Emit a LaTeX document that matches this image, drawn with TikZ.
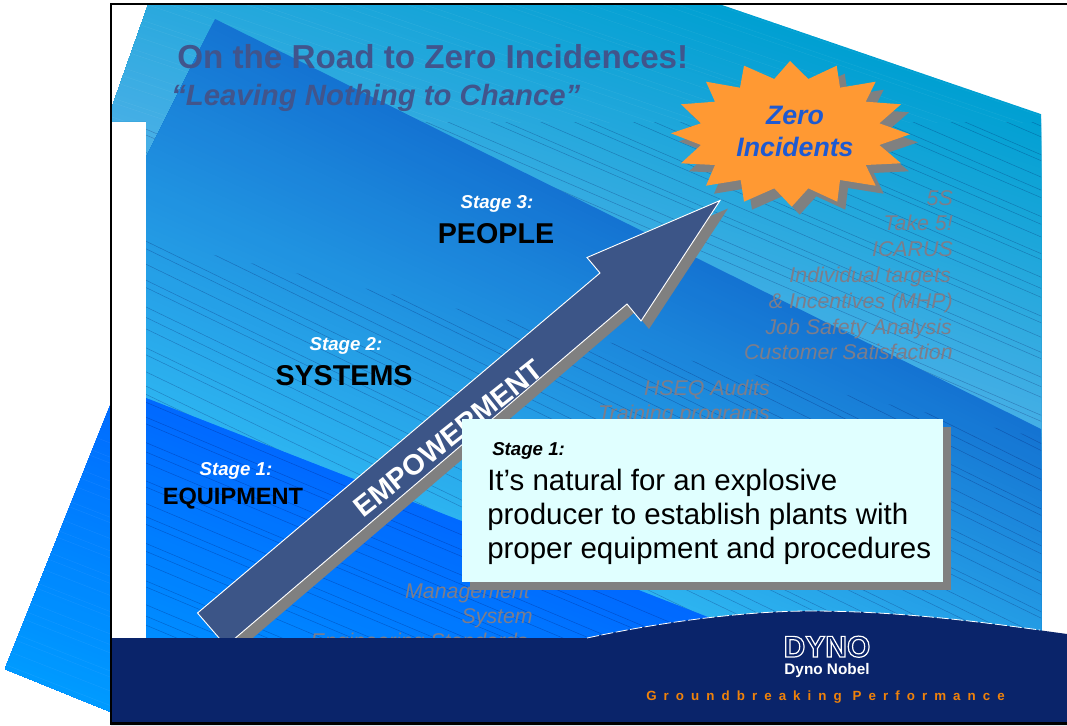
\documentclass[tikz,border=0pt]{standalone}
\usepackage{fontspec}
\setmainfont{Liberation Sans}
\definecolor{aA}{RGB}{0,160,210}
\definecolor{aB}{RGB}{70,175,230}
\definecolor{bA}{RGB}{20,115,210}
\definecolor{bB}{RGB}{45,180,240}
\definecolor{cA}{RGB}{0,105,255}
\definecolor{cB}{RGB}{0,155,255}
\definecolor{navyband}{RGB}{10,36,106}
\definecolor{titleblue}{RGB}{65,85,140}
\definecolor{arrowblue}{RGB}{60,85,135}
\definecolor{starorange}{RGB}{255,153,51}
\definecolor{zeroblue}{RGB}{30,90,210}
\definecolor{ghost}{RGB}{125,125,138}
\definecolor{paleBox}{RGB}{224,255,255}
\definecolor{shadowgray}{RGB}{128,128,128}
\definecolor{tagorange}{RGB}{240,130,10}
% colour A, colour B, top line y at x=0 and x=1067, bottom line y at x=0 and x=1067
\newcommand\gradband[6]{%
  \foreach \i in {0,...,70}{%
    \pgfmathsetmacro{\pp}{\i/70*100}%
    \pgfmathsetmacro{\ya}{#3+(#5-#3)*(\i/70)}%
    \pgfmathsetmacro{\yb}{#4+(#6-#4)*(\i/70)}%
    \fill[#2!\pp!#1] (0,\ya) -- (1067,\yb) -- (1067,1200) -- (0,1200) -- cycle;
  }}
% irregularly spaced hairlines
\newcommand\hairband[6]{%
  \foreach \i in {0,...,#6}{%
    \pgfmathsetmacro{\jit}{3.5*sin(\i*137)}%
    \pgfmathsetmacro{\ya}{#2+(#4-#2)*(\i/#6)+\jit}%
    \pgfmathsetmacro{\yb}{#3+(#5-#3)*(\i/#6)+\jit}%
    \draw[#1] (0,\ya) -- (1067,\yb);
  }}
\tikzset{
  hair/.style={draw=black!70!blue,opacity=.27,line width=.35pt},
  lighthair/.style={draw=white,opacity=.07,line width=.3pt},
  txt/.style={inner sep=0pt,anchor=base},
  titlefont/.style={txt,anchor=base west,text=titleblue,font=\fontsize{24.9}{30}\selectfont\bfseries},
  subfont/.style={txt,anchor=base west,text=titleblue,font=\fontsize{22}{26}\selectfont\bfseries\itshape},
  stagefont/.style={txt,text=white,font=\fontsize{14}{17}\selectfont\bfseries\itshape},
  bigfont/.style={txt,text=black,font=\fontsize{21.5}{26}\selectfont\bfseries},
  zerofont/.style={txt,text=zeroblue,font=\fontsize{20}{24}\selectfont\bfseries\itshape},
  ghostfont/.style={txt,anchor=base east,text=ghost,font=\fontsize{16}{19}\selectfont\itshape},
  boxfont/.style={txt,anchor=base west,text=black,font=\fontsize{22.1}{26}\selectfont},
}
\begin{document}
\begin{tikzpicture}[x=0.75pt,y=-0.75pt]
\useasboundingbox (0,0) rectangle (1067,725);
\fill[white] (0,0) rectangle (1067,725);
% left piece
\begin{scope}
  \clip (111,403) -- (5,669) -- (111,712) -- cycle;
  \gradband{cA}{cB}{341}{757}{667}{1083}
  \hairband{lighthair}{400}{816}{660}{1076}{22}
\end{scope}
% top band
\begin{scope}
  \clip (148,5) -- (722,5) -- (1041,114) -- (1041,640) -- (146,640) -- (146,121) -- (112,121) -- (112,107) -- cycle;
  \gradband{aA}{aB}{-242}{123}{83}{439}
  \begin{scope}
    \clip (0,0) rectangle (1067,122);
    \hairband{lighthair}{-240}{125}{90}{445}{30}
  \end{scope}
  \begin{scope}
    \clip (0,122) rectangle (1067,640);
    \hairband{hair}{-371}{88}{150}{609}{42}
  \end{scope}
  % middle band
  \begin{scope}
    \clip (215,19) -- (1041,429) -- (1041,640) -- (146,640) -- (146,157) -- cycle;
    \gradband{bA}{bB}{-88}{441.6}{341}{757}
    \begin{scope}
      \clip (146,240) -- (1041,438) -- (1041,640) -- (146,640) -- cycle;
      \hairband{hair}{-88}{441}{341}{853}{32}
    \end{scope}
    % lower band
    \begin{scope}
      \clip (0,341) -- (1067,757) -- (1067,800) -- (0,800) -- cycle;
      \gradband{cA}{cB}{341}{757}{667}{1083}
      \hairband{hair}{341}{789}{667}{1115}{26}
    \end{scope}
  \end{scope}
\end{scope}
% faded lists
\node[ghostfont] (l1) at (953,205) {5S};
\node[ghostfont] (l2) at (953,230) {Take 5!};
\node[ghostfont] (l3) at (953,256) {ICARUS};
\node[ghostfont] (l4) at (951,282) {Individual targets};
\node[ghostfont] (l5) at (953,308) {\& Incentives (MHP)};
\node[ghostfont] (l6) at (952,334) {Job Safety Analysis};
\node[ghostfont] (l7) at (953,359) {Customer Satisfaction};
\node[ghostfont] (m1) at (770,395) {HSEQ Audits};
\node[ghostfont] (m2) at (770,420) {Training programs};
\node[ghostfont] (s1) at (530,598) {Management};
\node[ghostfont] (s2) at (533,623) {System};
\node[ghostfont] (s3) at (528,648) {Engineering Standards};
% title
\node[titlefont] (title) at (177,68) {On the Road to Zero Incidences!};
\node[subfont] (subtitle) at (171,105) {“Leaving Nothing to Chance”};
% stage labels
\node[stagefont] (st3) at (497,208) {Stage 3:};
\node[bigfont] (people) at (496,243) {PEOPLE};
\node[stagefont] (st2) at (346,350) {Stage 2:};
\node[bigfont] (systems) at (344,385) {SYSTEMS};
\node[stagefont] (st1) at (236,475) {Stage 1:};
\node[txt,text=black,font=\fontsize{17.7}{21}\selectfont\bfseries] (equip) at (233,504) {EQUIPMENT};
% star
\newcommand\starpath{(790,61) -- (808.3,79) -- (836.7,65.7) -- (840,87.7) -- (875.7,81.7) -- (865.7,101.7) -- (901,104.3) -- (879.3,123.3) -- (910,134.3) -- (879.3,145) -- (901,163.3) -- (865.7,165) -- (875.7,185.7) -- (840,180) -- (837.3,201.7) -- (808.3,188.3) -- (791.7,206.7) -- (774.3,188.3) -- (744,201.7) -- (740.7,180) -- (706,185.7) -- (715,165) -- (681,163.3) -- (701,145) -- (671,133.3) -- (701,123.3) -- (681,104.3) -- (715,101.7) -- (706,81.7) -- (740,87.7) -- (744,65.7) -- (774.3,79) -- cycle}
\fill[shadowgray,shift={(8,8)}] \starpath;
\fill[starorange] \starpath;
\node[zerofont] (zero) at (795,124) {Zero};
\node[zerofont] (incid) at (795,156) {Incidents};
% arrow
\newcommand\arrowpath{(720,200.5) -- (641,321) -- (627,304) -- (226,646) -- (197.5,613) -- (600,273) -- (587,257.5) -- cycle}
\fill[shadowgray,shift={(8,8)}] \arrowpath;
\filldraw[fill=arrowblue,draw=white,line width=.7pt] \arrowpath;
\node[txt,anchor=center,text=white,rotate=38.5,font=\fontsize{21.5}{26}\selectfont\bfseries] (emp) at (448,438) {EMPOWERMENT};
% text box
\fill[shadowgray] (470,427) rectangle (951,590);
\fill[paleBox] (462,419) rectangle (943,582);
\node[txt,anchor=base west,text=black,font=\fontsize{14}{17}\selectfont\bfseries\itshape] (bst) at (492,455) {Stage 1:};
\node[boxfont] (b1) at (487,490) {It’s natural for an explosive};
\node[boxfont] (b2) at (487,524) {producer to establish plants with};
\node[boxfont] (b3) at (487,558) {proper equipment and procedures};
% footer
\fill[navyband] (111,638) -- (587,638) .. controls (680,618) and (760,611) .. (810,611) .. controls (900,611) and (980,622) .. (1067,634) -- (1067,725) -- (111,725) -- cycle;
\draw[white,line width=.6pt,dash pattern=on 9pt off 2pt] (587,638) .. controls (680,618) and (760,611) .. (810,611) .. controls (900,611) and (980,622) .. (1040,630);
\node[txt,text=white,font=\fontsize{22.5}{26}\selectfont\bfseries] (dyno) at (827,657) {\special{pdf:code 1 Tr 0.9 w 1 1 1 RG}DYNO\special{pdf:code 0 Tr}};
\node[txt,text=white,font=\fontsize{11.5}{14}\selectfont\bfseries] (dn) at (827,674) {Dyno Nobel};
\node[txt,anchor=base west,text=tagorange,font=\fontsize{10}{12}\selectfont\bfseries\addfontfeature{LetterSpace=53}] (tag) at (646,700) {Groundbreaking Performance};
% frame
\draw[black,line width=1.9pt] (1067,4) -- (111,4) -- (111,723.5) -- (1067,723.5);
\end{tikzpicture}
\end{document}
